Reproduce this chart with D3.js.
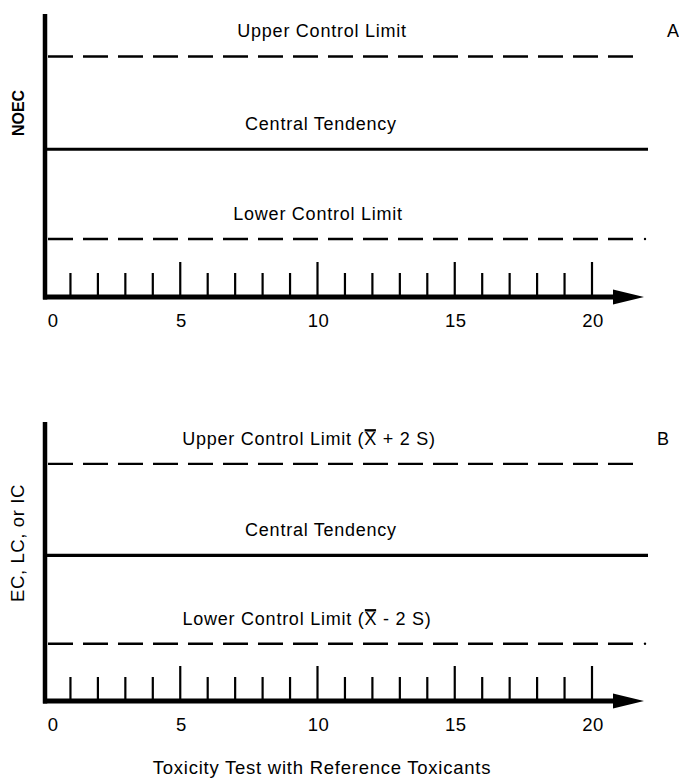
<!DOCTYPE html>
<html>
<head>
<meta charset="utf-8">
<script src="https://cdn.jsdelivr.net/npm/d3@7"></script>
<style>
  html, body { margin: 0; padding: 0; background: #fff; }
  svg { display: block; }
  text { font-family: "Liberation Sans", Arial, Helvetica, sans-serif; fill: #000; }
</style>
</head>
<body>
<svg id="chart" width="679" height="778"></svg>
<script>
// ---- data ----
const testNumbers = d3.range(0, 21);            // toxicity tests 0..20
const majorTicks = [0, 5, 10, 15, 20];
const tickLabels = ["0", "5", "10", "15", "20"];
const levelNames = ["upper", "central", "lower"];
const levelValues = [0.85, 0.522, 0.205];       // relative positions of UCL, mean, LCL
const levelStyles = ["dashed", "solid", "dashed"];
const panelALabels = ["Upper Control Limit", "Central Tendency", "Lower Control Limit"];
const panelBLabels = ["Upper Control Limit (X + 2 S)", "Central Tendency", "Lower Control Limit (X - 2 S)"];
const panelAYTitle = "NOEC";
const panelBYTitle = "EC, LC, or IC";
const panelTags = ["A", "B"];
const xTitle = "Toxicity Test with Reference Toxicants";

const svg = d3.select("#chart");

const panels = [
  { tag: panelTags[0], labels: panelALabels, yTitle: panelAYTitle, bold: true,
    top: 14, base: 297, labelX: [322, 321, 318] },
  { tag: panelTags[1], labels: panelBLabels, yTitle: panelBYTitle, bold: false,
    top: 422, base: 701, labelX: [309, 321, 307] }
];

const x = d3.scaleLinear().domain([0, 20]).range([43, 592]);

panels.forEach((p, pi) => {
  const g = svg.append("g");
  const y = d3.scaleLinear().domain([0, 1]).range([p.base, p.top]);

  // tick marks (minor / major)
  g.selectAll("line.tick").data(testNumbers.filter(d => d > 0)).join("line")
    .attr("x1", d => x(d)).attr("x2", d => x(d))
    .attr("y1", p.base).attr("y2", d => p.base - (d % 5 === 0 ? 35 : 24))
    .attr("stroke", "#000").attr("stroke-width", 2.2);

  // control lines
  levelValues.forEach((v, i) => {
    const yy = y(v);
    const dashed = levelStyles[i] === "dashed";
    g.append("line")
      .attr("x1", dashed ? 48 : 44).attr("x2", dashed ? 637 : 648)
      .attr("y1", yy).attr("y2", yy)
      .attr("stroke", "#000")
      .attr("stroke-width", dashed ? 2.4 : 3.2)
      .attr("stroke-dasharray", dashed ? "25,10" : null);
    if (dashed && i === 2) {
      g.append("circle").attr("cx", 645).attr("cy", yy).attr("r", 1.2).attr("fill", "#000");
    }
    const t = g.append("text")
      .attr("x", p.labelX[i]).attr("y", yy - 19)
      .attr("text-anchor", "middle")
      .attr("font-size", 18)
      .attr("letter-spacing", 0.75)
      .text(p.labels[i]);
    // overline for X-bar
    const idx = p.labels[i].indexOf("(X");
    if (idx >= 0) {
      const ext = t.node().getExtentOfChar(idx + 1);
      g.append("line")
        .attr("x1", ext.x + 0.5).attr("x2", ext.x + ext.width - 1)
        .attr("y1", ext.y + 1.5).attr("y2", ext.y + 1.5)
        .attr("stroke", "#000").attr("stroke-width", 2.4);
    }
  });

  // y axis
  g.append("line").attr("x1", 45).attr("x2", 45)
    .attr("y1", p.top).attr("y2", p.base + 2.5)
    .attr("stroke", "#000").attr("stroke-width", 4.5);

  // x axis with arrow
  g.append("line").attr("x1", 43).attr("x2", 618)
    .attr("y1", p.base).attr("y2", p.base)
    .attr("stroke", "#000").attr("stroke-width", 5);
  g.append("path")
    .attr("d", `M613,${p.base - 7.5} L644,${p.base} L613,${p.base + 7.5} Z`)
    .attr("fill", "#000");

  // tick labels
  g.selectAll("text.tl").data(majorTicks).join("text")
    .attr("x", (d, i) => x(d) + (d === 0 ? 10 : 1))
    .attr("y", p.base + 30)
    .attr("text-anchor", "middle")
    .attr("font-size", 18.5)
    .attr("letter-spacing", d => d >= 10 ? 0.5 : 0)
    .text((d, i) => tickLabels[i]);

  // panel tag
  g.append("text").attr("x", pi === 0 ? 673 : 663).attr("y", y(levelValues[0]) - 19)
    .attr("text-anchor", "middle").attr("font-size", 18).text(p.tag);

  // y title
  const cy = pi === 0 ? 113 : 543;
  g.append("text")
    .attr("transform", `translate(24,${cy}) rotate(-90)`)
    .attr("text-anchor", "middle")
    .attr("font-size", pi === 0 ? 16 : 18.5)
    .attr("letter-spacing", pi === 0 ? 0 : 0.6)
    .attr("font-weight", p.bold ? "bold" : "normal")
    .text(p.yTitle);
});

svg.append("text").attr("x", 322).attr("y", 774)
  .attr("text-anchor", "middle").attr("font-size", 18.5)
  .attr("letter-spacing", 0.75).text(xTitle);
</script>
</body>
</html>
